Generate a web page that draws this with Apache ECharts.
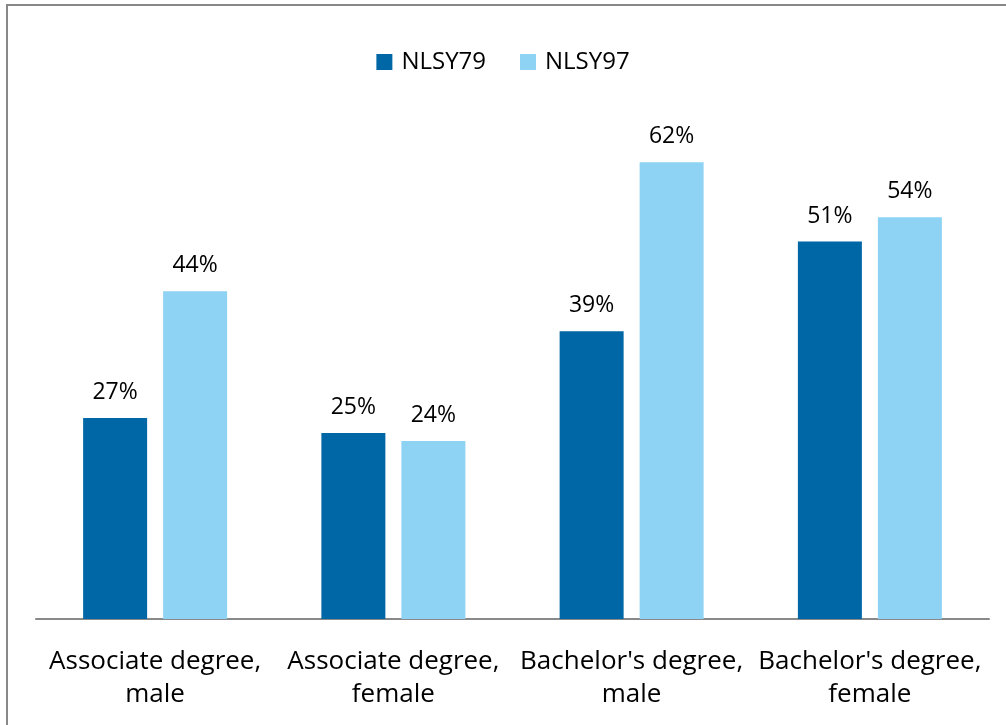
<!DOCTYPE html>
<html>
<head>
<meta charset="utf-8">
<script src="https://cdn.jsdelivr.net/npm/echarts@6/dist/echarts.min.js"></script>
<style>
  html, body { margin: 0; padding: 0; background: #fff; }
  #frame { position: absolute; left: 6px; top: 4px; width: 1010px; height: 730px;
           border-left: 2px solid #888; border-top: 2px solid #888; box-sizing: border-box; }
  #chart { position: absolute; left: 0; top: 0; width: 1006px; height: 725px; }
</style>
</head>
<body>
<div id="frame"></div>
<div id="chart"></div>
<script>
// categories along the x axis
const categories = [
  "Associate degree,\nmale",
  "Associate degree,\nfemale",
  "Bachelor's degree,\nmale",
  "Bachelor's degree,\nfemale",
];

// percentages
const nlsy79 = [27.1, 25.1, 38.8, 50.9];
const nlsy97 = [44.2, 24.0, 61.6, 54.2];

const seriesNames = ["NLSY79", "NLSY97"];
const seriesColors = ["#0067A6", "#8ED3F4"];

const FONT = "'Open Sans', 'Noto Sans', sans-serif";

const labelStyle = {
  show: true,
  position: "top",
  distance: 14,
  color: "#000",
  fontFamily: FONT,
  fontSize: 23,
  formatter: (p) => Math.round(p.value) + "%",
};

const option = {
  animation: false,
  backgroundColor: "transparent",
  legend: {
    top: 45,
    left: "center",
    itemWidth: 16,
    itemHeight: 16,
    itemGap: 34,
    icon: "rect",
    textStyle: { color: "#000", fontFamily: FONT, fontSize: 24, padding: [0, 0, 0, 4] },
    data: seriesNames,
  },
  grid: { left: 36, right: 17, top: 100, bottom: 106, containLabel: false },
  xAxis: {
    type: "category",
    data: categories,
    axisLine: { show: true, lineStyle: { color: "#898989", width: 2 } },
    axisTick: { show: false },
    axisLabel: {
      color: "#000",
      fontFamily: FONT,
      fontSize: 26,
      lineHeight: 33,
      margin: 26,
      interval: 0,
    },
  },
  yAxis: {
    type: "value",
    min: 0,
    max: 70,
    show: false,
    splitLine: { show: false },
  },
  series: [
    {
      name: seriesNames[0],
      type: "bar",
      data: nlsy79,
      barWidth: 64,
      barGap: "25%",
      itemStyle: { color: seriesColors[0] },
      label: labelStyle,
    },
    {
      name: seriesNames[1],
      type: "bar",
      data: nlsy97,
      barWidth: 64,
      barGap: "25%",
      itemStyle: { color: seriesColors[1] },
      label: labelStyle,
    },
  ],
};

const chart = echarts.init(document.getElementById("chart"));
chart.setOption(option);
</script>
</body>
</html>
